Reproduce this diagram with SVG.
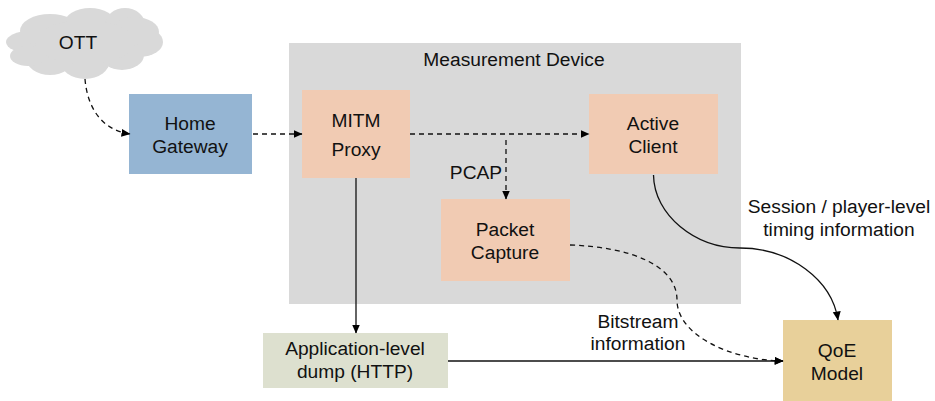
<svg xmlns="http://www.w3.org/2000/svg" width="935" height="401" viewBox="0 0 935 401">
<defs>
<marker id="arr" markerUnits="userSpaceOnUse" markerWidth="10" markerHeight="10" refX="8.500" refY="4.500" orient="auto"><path d="M0 0.500L9 4.500L0 8.500Z" fill="#000"/></marker>
</defs>
<style>
text{font-family:"Liberation Sans",Arial,sans-serif;font-size:19.2px;fill:#111;text-anchor:middle}
.c{fill:none;stroke:#111;stroke-width:1.3}
.d{stroke-dasharray:5 4}
.k{fill:#d9d9d9}
</style>
<rect width="935" height="401" fill="#fff"/>
<g id="measurement-device"><rect x="289" y="43" width="452" height="261" fill="#d9d9d9"/><text x="514" y="66">Measurement Device</text></g>
<g id="ott"><g class="k"><ellipse cx="30" cy="42" rx="24" ry="11"/><ellipse cx="50" cy="31" rx="30" ry="17"/><ellipse cx="90" cy="24" rx="26" ry="16"/><ellipse cx="125" cy="25" rx="20" ry="17"/><ellipse cx="135" cy="32" rx="24" ry="15"/><ellipse cx="140" cy="42" rx="23" ry="15"/><ellipse cx="122" cy="55" rx="22" ry="15"/><ellipse cx="85" cy="60" rx="25" ry="19"/><ellipse cx="50" cy="58" rx="24" ry="17"/><ellipse cx="28" cy="56" rx="18" ry="10"/><ellipse cx="85" cy="42" rx="50" ry="22"/></g><text x="78" y="49">OTT</text></g>
<g id="home-gateway"><rect x="129" y="94" width="123" height="80" fill="#95b5d3"/><text x="190" y="130">Home</text><text x="190" y="153">Gateway</text></g>
<g id="mitm-proxy"><rect x="302" y="90" width="108" height="88" fill="#f1cbb3"/><text x="356" y="127">MITM</text><text x="356" y="156">Proxy</text></g>
<g id="active-client"><rect x="589" y="94" width="129" height="80" fill="#f1cbb3"/><text x="653" y="130">Active</text><text x="653" y="153">Client</text></g>
<g id="packet-capture"><rect x="441" y="199" width="129" height="82" fill="#f1cbb3"/><text x="505" y="236">Packet</text><text x="505" y="259">Capture</text></g>
<g id="app-dump"><rect x="263" y="333" width="185" height="55" fill="#dde0cf"/><text x="355" y="355">Application-level</text><text x="355" y="378">dump (HTTP)</text></g>
<g id="qoe-model"><rect x="783" y="320" width="109" height="81" fill="#e8d09a"/><text x="837" y="357">QoE</text><text x="837" y="380">Model</text></g>
<g id="connectors">
<path class="c d" marker-end="url(#arr)" d="M85 79C87 105 100 130 130 134"/>
<path class="c d" marker-end="url(#arr)" d="M253 134H302"/>
<path class="c d" marker-end="url(#arr)" d="M410 134H589"/>
<path class="c d" marker-end="url(#arr)" d="M506 140V199"/>
<path class="c" marker-end="url(#arr)" d="M356 178V333"/>
<path class="c" marker-end="url(#arr)" d="M448 361H783"/>
<path class="c" marker-end="url(#arr)" d="M653.500 175C654 215 695 248 740 248C790 248 832 280 838 320"/>
<path class="c d" marker-end="url(#arr)" d="M570 245C630 247 677 265 677 300C677 335 730 360 783 361"/>
</g>
<g id="labels">
<text x="476" y="179">PCAP</text>
<text x="839" y="213">Session / player-level</text><text x="839" y="236">timing information</text>
<text x="638" y="328">Bitstream</text><text x="638" y="350">information</text>
</g>
</svg>
